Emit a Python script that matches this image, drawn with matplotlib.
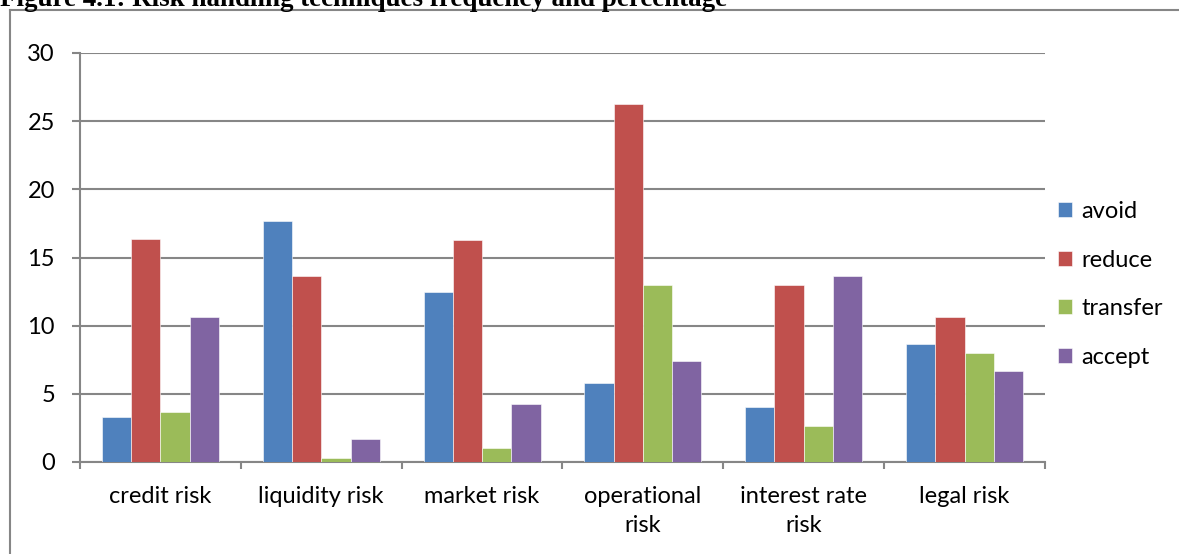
import matplotlib
matplotlib.use("Agg")
import matplotlib.pyplot as plt
from matplotlib.lines import Line2D
import numpy as np

categories = ["credit risk", "liquidity risk", "market risk",
              "operational\nrisk", "interest rate\nrisk", "legal risk"]
avoid = [3.33, 17.67, 12.5, 5.83, 4.0, 8.67]
reduce = [16.33, 13.67, 16.25, 26.25, 13.0, 10.67]
transfer = [3.67, 0.33, 1.0, 13.0, 2.67, 8.0]
accept = [10.67, 1.67, 4.25, 7.42, 13.67, 6.67]
series = [("avoid", avoid, "#4F81BD"),
          ("reduce", reduce, "#C0504D"),
          ("transfer", transfer, "#9BBB59"),
          ("accept", accept, "#8064A2")]
title = "Figure 4.1: Risk handling techniques frequency and percentage"

W, H = 1179, 554
fs = 17
plt.rcParams["font.family"] = ["Lato", "DejaVu Sans"]
fig = plt.figure(figsize=(W / 100, H / 100), dpi=100)
ax = fig.add_axes([80 / W, 1 - 462 / H, (1045 - 80) / W, (462 - 53) / H])

grey = "#868686"
x = np.arange(len(categories))
bw = 0.182
for i, (name, vals, col) in enumerate(series):
    ax.bar(x + (i - 1.5) * bw, vals, bw, color=col, label=name,
           edgecolor="white", linewidth=0.4, zorder=3)

ax.set_xlim(-0.5, len(categories) - 0.5)
ax.set_ylim(0, 30)
ax.set_yticks(range(0, 31, 5))
ax.yaxis.grid(True, color=grey, linewidth=1.5, zorder=0)
ax.set_xticks(x)
ax.set_xticklabels(categories, fontsize=fs, linespacing=1.5)
ax.set_xticks(np.arange(len(categories) + 1) - 0.5, minor=True)
ax.tick_params(axis="x", which="major", length=0, pad=17)
ax.tick_params(axis="x", which="minor", length=5, width=1.5, color=grey, direction="out")
ax.tick_params(axis="y", length=6, width=1.5, color=grey, pad=12, labelsize=fs)
for s in ("top", "right"):
    ax.spines[s].set_visible(False)
for s in ("left", "bottom"):
    ax.spines[s].set_color(grey)
    ax.spines[s].set_linewidth(1.5)

ax.legend(loc="center left", bbox_to_anchor=(1058 / W, 1 - 284.5 / H),
          bbox_transform=fig.transFigure, frameon=False, fontsize=fs,
          handlelength=0.6, handleheight=0.6, handletextpad=0.4,
          labelspacing=1.17, borderpad=0, borderaxespad=0)

# outer chart frame, only top and left edges fall inside the image
fig.add_artist(Line2D([10 / W, 10 / W], [0, 1 - 10 / H], color=grey, lw=1.5))
fig.add_artist(Line2D([10 / W, 1], [1 - 10 / H, 1 - 10 / H], color=grey, lw=1.5))

t = fig.text(0, 1 - 6.5 / H, title, family="Liberation Serif", weight="bold",
             fontsize=18, va="baseline", ha="left")
r = fig.canvas.get_renderer()
w = t.get_window_extent(r).width
t.set_fontsize(18 * 728 / w)

fig.savefig("out.png", dpi=100)
